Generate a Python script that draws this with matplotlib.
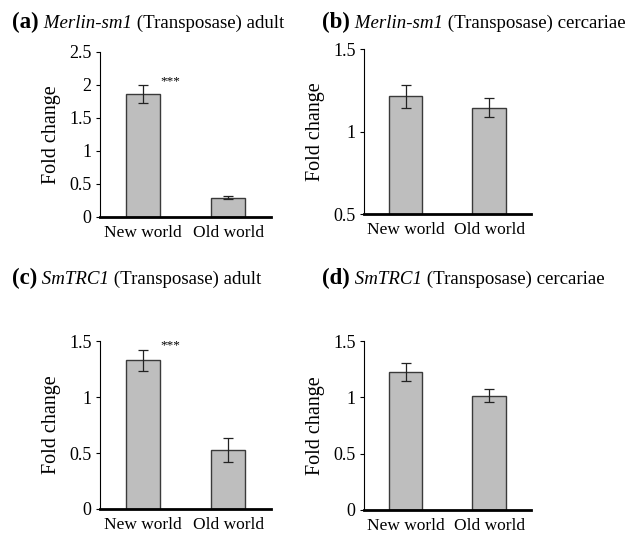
import matplotlib
matplotlib.use("Agg")
import matplotlib.pyplot as plt

plt.rcParams["font.family"] = ["Liberation Serif", "DejaVu Serif"]

groups = ["New world", "Old world"]

a_vals = [1.86, 0.29]
a_errs = [0.13, 0.025]
b_vals = [1.213, 1.146]
b_errs = [0.071, 0.057]
c_vals = [1.33, 0.526]
c_errs = [0.093, 0.107]
d_vals = [1.227, 1.017]
d_errs = [0.077, 0.06]

panels = [
    ("(a)", "Merlin-sm1", " (Transposase) adult", a_vals, a_errs, (0, 2.5), [0, 0.5, 1, 1.5, 2, 2.5], True),
    ("(b)", "Merlin-sm1", " (Transposase) cercariae", b_vals, b_errs, (0.5, 1.5), [0.5, 1, 1.5], False),
    ("(c)", "SmTRC1", " (Transposase) adult", c_vals, c_errs, (0, 1.5), [0, 0.5, 1, 1.5], True),
    ("(d)", "SmTRC1", " (Transposase) cercariae", d_vals, d_errs, (0, 1.5), [0, 0.5, 1, 1.5], False),
]

axes_pos = [
    [0.158, 0.594, 0.271, 0.309],
    [0.576, 0.599, 0.264, 0.309],
    [0.158, 0.047, 0.271, 0.314],
    [0.576, 0.045, 0.264, 0.316],
]
title_pos = [(12, 28), (322, 28), (12, 284), (322, 284)]

W, H = 632, 534
fig = plt.figure(figsize=(W / 100, H / 100), dpi=100)

for (lab, gene, rest, vals, errs, ylim, yt, stars), pos in zip(panels, axes_pos):
    ax = fig.add_axes(pos)
    ax.bar([0, 1], vals, width=0.4, color="#bebebe", edgecolor="#3a3a3a", linewidth=1.0, zorder=2)
    ax.errorbar([0, 1], vals, yerr=errs, fmt="none", ecolor="#222222", elinewidth=0.9,
                capsize=3.5, capthick=0.9, zorder=3)
    ax.set_xlim(-0.5, 1.5)
    ax.set_ylim(*ylim)
    ax.set_yticks(yt)
    ax.set_yticklabels([f"{t:g}" for t in yt])
    ax.set_xticks([0, 1])
    ax.set_xticklabels(groups, fontsize=12.5)
    ax.tick_params(axis="x", length=0, pad=6)
    ax.tick_params(axis="y", length=3, width=0.8, labelsize=13, pad=3, direction="out")
    for s in ["top", "right"]:
        ax.spines[s].set_visible(False)
    ax.spines["left"].set_linewidth(0.8)
    ax.spines["bottom"].set_linewidth(2.0)
    ax.set_ylabel("Fold change", fontsize=14.5, labelpad=6)
    if stars:
        ax.text(0.32, vals[0] + errs[0] - 0.01 * (ylim[1] - ylim[0]), "***", fontsize=9.5,
                ha="center", va="bottom")

fig.canvas.draw()
r = fig.canvas.get_renderer()
for (lab, gene, rest, *_), (px, py) in zip(panels, title_pos):
    x = px
    for txt, kw in [(lab, dict(fontweight="bold", fontsize=16.5)),
                    (" " + gene, dict(style="italic", fontsize=13.6)),
                    (rest, dict(fontsize=13.6))]:
        t = fig.text(x / W, 1 - py / H, txt, ha="left", va="baseline", **kw)
        bb = t.get_window_extent(renderer=r)
        x += bb.width

fig.savefig("out.png", dpi=100)
